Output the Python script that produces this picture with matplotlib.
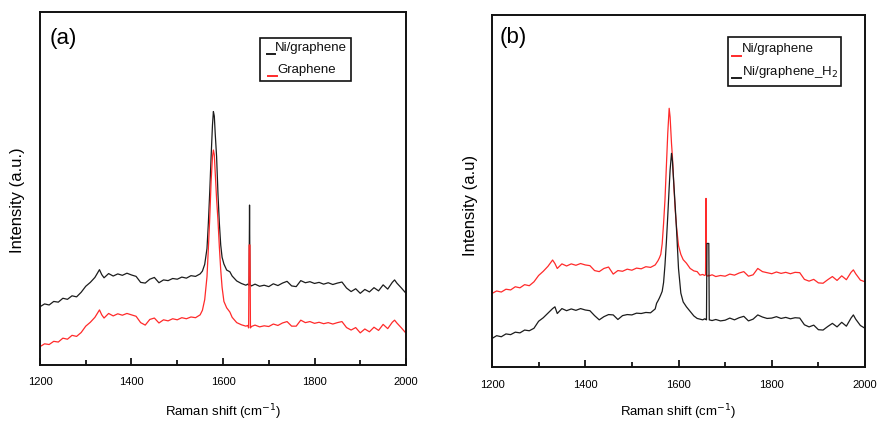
import matplotlib
matplotlib.use("Agg")
import matplotlib.pyplot as plt
from matplotlib.patches import Rectangle
from matplotlib.ticker import MultipleLocator

plt.rcParams['font.family'] = ['Liberation Sans', 'DejaVu Sans']

# ---- data (Raman shift in cm^-1, intensity in arbitrary units) ----
shift_a = [1200, 1210, 1220, 1230, 1240, 1250, 1260, 1270, 1280, 1290,
           1300, 1310, 1320, 1330, 1335, 1340, 1350, 1360, 1370, 1380,
           1390, 1400, 1410, 1420, 1430, 1440, 1450, 1460, 1470, 1480,
           1490, 1500, 1510, 1520, 1530, 1540, 1550, 1555, 1560, 1565,
           1568, 1571, 1574, 1577, 1579, 1581, 1583, 1586, 1589, 1592,
           1595, 1598, 1602, 1608, 1615, 1620, 1630, 1640, 1650, 1654,
           1656, 1657, 1658, 1659, 1660, 1662, 1670, 1680, 1690, 1700,
           1710, 1720, 1730, 1740, 1750, 1760, 1770, 1780, 1790, 1800,
           1810, 1820, 1830, 1840, 1850, 1860, 1870, 1880, 1890, 1900,
           1910, 1920, 1930, 1940, 1950, 1960, 1970, 1975, 1980, 1990,
           2000]
ni_graphene_a = [16.5, 17.3, 17.0, 18.0, 17.8, 18.9, 18.6, 19.6, 19.3, 20.6,
                 22.3, 23.4, 24.8, 27.0, 25.6, 24.7, 25.9, 25.2, 25.8, 25.4,
                 26.0, 25.5, 25.1, 23.4, 23.2, 24.3, 24.8, 23.3, 24.1, 23.9,
                 24.5, 24.3, 24.9, 24.6, 25.3, 25.1, 25.8, 26.6, 28.5, 33.0,
                 40.2, 49.0, 59.0, 68.0, 71.8, 70.5, 65.5, 59.0, 48.5, 40.2,
                 34.0, 30.5, 28.6, 26.9, 26.4, 25.2, 23.8, 23.1, 22.6, 22.9,
                 22.6, 22.7, 45.3, 22.8, 22.7, 22.4, 22.9, 22.3, 22.6, 22.2,
                 23.0, 22.5, 23.2, 23.7, 22.4, 22.2, 23.9, 23.3, 23.6, 23.1,
                 23.4, 22.9, 23.3, 22.8, 23.2, 23.5, 21.8, 20.8, 21.6, 20.3,
                 21.4, 20.7, 21.9, 21.0, 22.7, 21.5, 23.4, 24.1, 23.2, 21.8,
                 20.3]
graphene_a = [5.2, 6.0, 5.8, 6.7, 6.5, 7.6, 7.3, 8.4, 8.1, 9.2,
              11.0, 12.1, 13.5, 15.6, 14.2, 13.3, 14.6, 13.9, 14.5, 14.1,
              14.6, 14.2, 13.8, 12.0, 11.3, 12.9, 13.3, 11.9, 12.8, 12.5,
              13.1, 12.8, 13.4, 13.1, 13.6, 13.4, 14.2, 15.5, 18.5, 25.0,
              33.0, 41.5, 52.0, 59.0, 60.9, 59.5, 54.5, 47.0, 41.0, 33.5,
              27.0, 22.0, 18.0, 16.2, 15.0, 13.5, 12.0, 11.4, 11.0, 11.2,
              10.5, 34.0, 34.0, 34.0, 10.5, 10.9, 11.3, 10.8, 11.1, 10.9,
              11.6, 11.2, 11.9, 12.3, 11.0, 11.0, 12.7, 12.0, 12.3, 11.8,
              12.1, 11.7, 12.0, 11.6, 12.0, 12.3, 10.6, 9.9, 10.6, 9.1,
              10.2, 9.4, 10.7, 9.8, 11.5, 10.3, 12.1, 12.7, 11.9, 10.5,
              9.0]

shift_b = [1200, 1210, 1220, 1230, 1240, 1250, 1260, 1270, 1280, 1290,
           1300, 1310, 1320, 1330, 1335, 1340, 1350, 1360, 1370, 1380,
           1390, 1400, 1410, 1420, 1430, 1440, 1450, 1460, 1470, 1480,
           1490, 1500, 1510, 1520, 1530, 1540, 1550, 1553, 1556, 1559,
           1562, 1565, 1568, 1571, 1574, 1577, 1580, 1582, 1585, 1587,
           1590, 1593, 1596, 1600, 1605, 1610, 1617, 1625, 1633, 1640,
           1646, 1652, 1656, 1658, 1659, 1660, 1661, 1663, 1665, 1666,
           1672, 1680, 1690, 1700, 1710, 1720, 1730, 1740, 1750, 1760,
           1770, 1780, 1790, 1800, 1810, 1820, 1830, 1840, 1850, 1860,
           1870, 1880, 1890, 1900, 1910, 1920, 1930, 1940, 1950, 1960,
           1970, 1975, 1980, 1990, 2000]
ni_graphene_b = [20.9, 21.6, 21.3, 22.1, 21.9, 22.8, 22.5, 23.4, 23.1, 24.2,
                 26.0, 27.2, 28.6, 30.4, 29.4, 28.0, 29.3, 28.7, 29.3, 28.9,
                 29.4, 29.0, 28.8, 27.4, 27.1, 28.0, 28.4, 26.4, 27.4, 27.2,
                 27.8, 27.5, 28.1, 27.9, 28.5, 28.3, 29.0, 29.6, 30.2, 31.0,
                 32.0, 35.0, 40.8, 47.5, 57.0, 66.5, 73.5, 71.0, 63.5, 59.7,
                 51.5, 44.5, 39.5, 34.5, 32.0, 30.5, 29.5, 28.0, 27.3, 27.1,
                 26.1, 26.3, 26.0, 26.2, 47.9, 26.3, 26.0, 25.8, 26.1, 25.9,
                 26.2, 25.7, 26.0, 25.8, 26.4, 26.1, 26.7, 27.1, 25.8, 26.2,
                 28.0, 27.1, 26.8, 26.5, 27.0, 26.6, 26.9, 26.5, 26.9, 26.8,
                 24.9, 24.4, 24.9, 23.9, 23.8, 24.8, 25.7, 24.6, 25.9, 24.8,
                 26.9, 27.6, 26.5, 24.7, 24.2]
ni_graphene_h2_b = [8.1, 8.9, 8.6, 9.4, 9.2, 9.9, 9.7, 10.5, 10.3, 11.0,
                    13.0, 14.0, 15.3, 16.6, 17.1, 15.2, 16.6, 16.0, 16.5, 16.1,
                    16.6, 16.2, 16.0, 14.6, 13.4, 14.3, 14.9, 14.8, 13.5, 14.6,
                    14.9, 14.8, 15.3, 15.2, 15.5, 15.4, 16.5, 18.1, 18.8, 19.6,
                    20.5, 21.5, 24.0, 29.0, 35.5, 43.0, 51.0, 56.0, 60.7, 58.5,
                    52.0, 45.5, 38.5, 28.0, 21.0, 18.5, 17.1, 15.8, 14.5, 13.8,
                    13.6, 13.4, 13.7, 13.5, 13.6, 13.4, 35.1, 35.1, 35.1, 13.4,
                    13.2, 13.5, 13.1, 13.3, 13.9, 13.4, 14.0, 14.4, 13.1, 13.6,
                    14.8, 14.2, 13.8, 13.9, 14.3, 13.8, 14.1, 13.7, 14.0, 13.9,
                    12.0, 11.4, 11.9, 10.6, 10.5, 11.5, 12.4, 11.4, 12.7, 11.6,
                    13.9, 14.8, 13.6, 11.8, 11.0]

xticks = [1200, 1400, 1600, 1800, 2000]

BLACK = '#1c1c1c'
RED = '#ff2a2a'

fig = plt.figure(figsize=(8.79, 4.22), dpi=100)
ax_a = fig.add_axes([0.0455, 0.1351, 0.4164, 0.8365])
ax_b = fig.add_axes([0.5597, 0.1303, 0.4244, 0.8341])


def style_axes(ax):
    ax.set_xlim(1200, 2000)
    ax.set_ylim(0, 100)
    ax.set_xticks(xticks)
    ax.set_xticklabels([str(t) for t in xticks])
    ax.xaxis.set_minor_locator(MultipleLocator(100))
    ax.tick_params(axis='x', which='major', direction='in', length=5, width=1.2,
                   labelsize=8, pad=9, top=False)
    ax.tick_params(axis='x', which='minor', direction='in', length=3.5, width=1.2, top=False)
    ax.set_yticks([])
    for sp in ax.spines.values():
        sp.set_linewidth(1.4)
        sp.set_color('#111111')


def legend_box(ax, box, rows):
    # box = (x0, y0, x1, y1) in axes coords; rows = [(label, color, y, hx0, hx1, tx), ...]
    x0, y0, x1, y1 = box
    ax.add_patch(Rectangle((x0, y0), x1 - x0, y1 - y0, transform=ax.transAxes,
                           facecolor='white', edgecolor='#111111', linewidth=1.2,
                           zorder=5, clip_on=False))
    for label, color, y, hx0, hx1, tx in rows:
        ax.plot([hx0, hx1], [y - 0.018, y - 0.018], transform=ax.transAxes,
                color=color, linewidth=1.4, zorder=6, clip_on=False)
        ax.text(tx, y, label, transform=ax.transAxes, fontsize=9.5,
                va='center', ha='left', color='#111111', zorder=6)


# ---- panel (a) ----
style_axes(ax_a)
ax_a.plot(shift_a, ni_graphene_a, color=BLACK, linewidth=0.9)
ax_a.plot(shift_a, graphene_a, color=RED, linewidth=0.9)
ax_a.set_xlabel('Raman shift (cm$^{-1}$)', fontsize=9.5)
ax_a.xaxis.set_label_coords(0.5, -0.105)
ax_a.set_ylabel('Intensity (a.u.)', fontsize=12)
ax_a.yaxis.set_label_coords(-0.041, 0.467)
ax_a.text(0.025, 0.926, '(a)', transform=ax_a.transAxes, fontsize=16,
          va='center', ha='left')
legend_box(ax_a, (0.601, 0.805, 0.850, 0.926),
           [('Ni/graphene', BLACK, 0.899, 0.621, 0.642, 0.643),
            ('Graphene', RED, 0.836, 0.624, 0.648, 0.648)])

# ---- panel (b) ----
style_axes(ax_b)
ax_b.plot(shift_b, ni_graphene_b, color=RED, linewidth=0.9)
ax_b.plot(shift_b, ni_graphene_h2_b, color=BLACK, linewidth=0.9)
ax_b.set_xlabel('Raman shift (cm$^{-1}$)', fontsize=9.5)
ax_b.xaxis.set_label_coords(0.5, -0.100)
ax_b.set_ylabel('Intensity (a.u)', fontsize=12)
ax_b.yaxis.set_label_coords(-0.0375, 0.46)
ax_b.text(0.021, 0.935, '(b)', transform=ax_b.transAxes, fontsize=16,
          va='center', ha='left')
legend_box(ax_b, (0.633, 0.798, 0.936, 0.9375),
           [('Ni/graphene', RED, 0.903, 0.643, 0.668, 0.669),
            ('Ni/graphene_H$_2$', BLACK, 0.838, 0.643, 0.668, 0.669)])

fig.savefig('out.png', dpi=100)
